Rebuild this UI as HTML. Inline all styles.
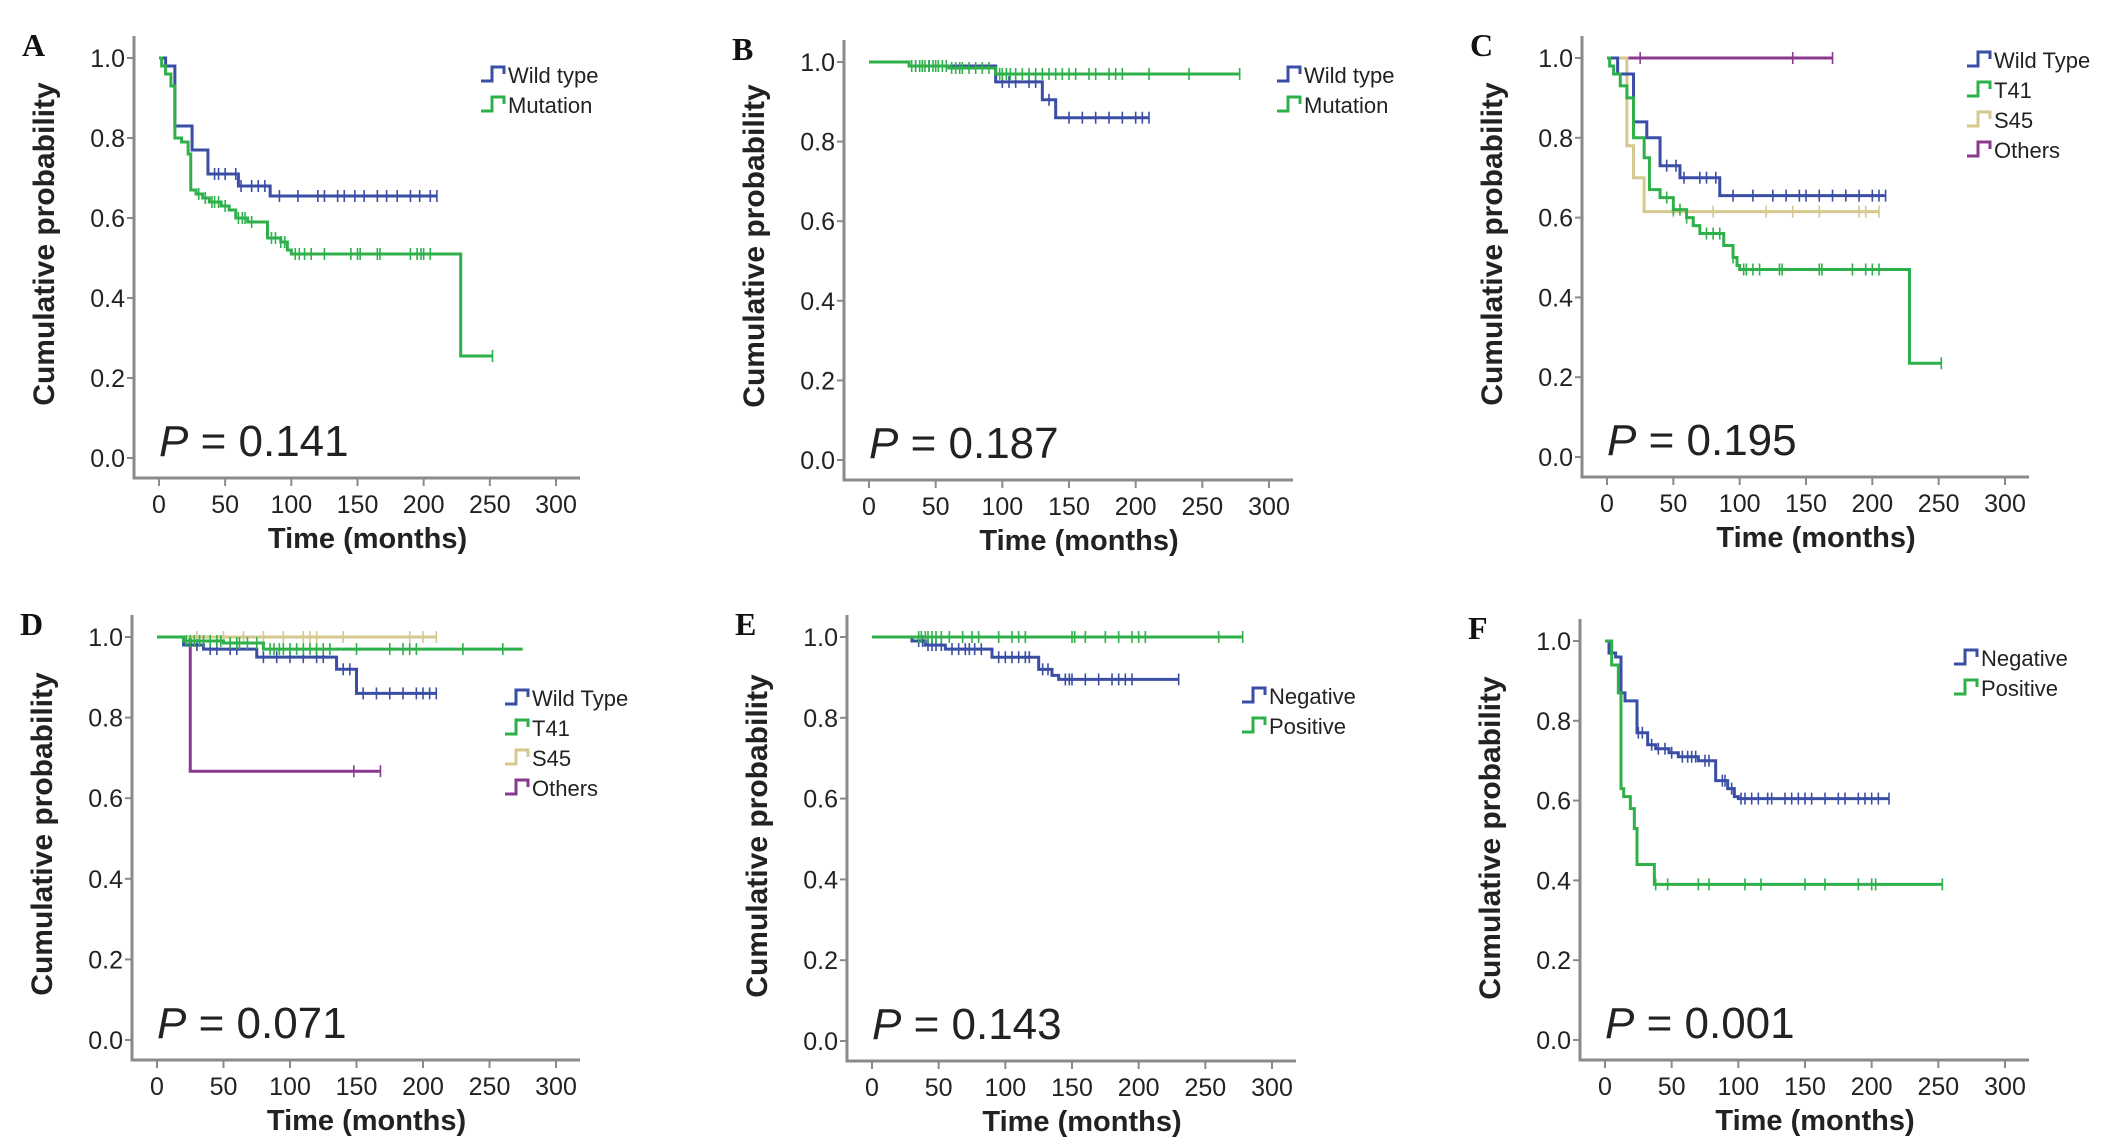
<!DOCTYPE html>
<html><head><meta charset="utf-8"><style>
html,body{margin:0;padding:0;background:#fff;}
svg{display:block;font-family:"Liberation Sans",Arial,sans-serif;}
</style></head><body>
<svg id="fig" width="2126" height="1145" viewBox="0 0 2126 1145"></svg>
<script>
// ---------- data ----------
const xTicks=[0,50,100,150,200,250,300];
const yTicks=[0.0,0.2,0.4,0.6,0.8,1.0];
const yTickLabels=["0.0","0.2","0.4","0.6","0.8","1.0"];
// Panel A
const aWildT=[5,12,25,37,60,84]; const aWildS=[0.98,0.83,0.77,0.71,0.68,0.655]; const aWildEnd=210;
const aWildC=[42,45,50,58,62,70,75,80,91,105,120,125,135,140,148,155,165,172,180,190,197,205,210];
const aMutT=[2,5,9,12,17,22,24,28,33,38,47,53,58,67,82,92,97,100,228]; const aMutS=[0.98,0.96,0.93,0.80,0.79,0.76,0.67,0.66,0.65,0.64,0.63,0.62,0.60,0.59,0.55,0.54,0.52,0.51,0.255]; const aMutEnd=252;
const aMutC=[30,35,40,42,45,50,60,63,65,70,85,88,92,95,103,106,110,115,125,145,150,152,165,167,190,195,198,200,205,252];
// Panel B
const bWildT=[30,95,130,140]; const bWildS=[0.99,0.95,0.905,0.86]; const bWildEnd=210;
const bWildC=[35,40,45,100,105,110,120,125,135,150,160,170,180,190,200,205,210];
const bMutT=[30,60,95]; const bMutS=[0.99,0.985,0.97]; const bMutEnd=278;
const bMutC=[32,35,38,40,42,45,48,50,52,55,58,62,65,68,70,75,80,85,90,98,100,103,106,110,115,120,125,130,135,140,145,150,155,165,170,180,185,190,210,240,278];
// Panel C
const cWildT=[8,20,30,40,55,85]; const cWildS=[0.96,0.84,0.80,0.73,0.70,0.655]; const cWildEnd=210;
const cWildC=[45,52,58,70,75,82,95,110,125,135,145,150,160,170,180,190,200,205,210];
const cT41T=[2,5,10,15,20,28,32,40,50,60,65,70,88,95,98,100,228]; const cT41S=[0.98,0.96,0.93,0.90,0.80,0.75,0.67,0.65,0.62,0.60,0.58,0.56,0.53,0.50,0.48,0.47,0.235]; const cT41End=252;
const cT41C=[45,50,55,60,75,80,85,95,103,105,110,115,130,132,160,162,185,195,200,205,252];
const cS45T=[15,20,28]; const cS45S=[0.78,0.70,0.615]; const cS45End=205;
const cS45C=[50,80,120,140,160,190,195,205];
const cOthT=[]; const cOthS=[]; const cOthEnd=170; const cOthC=[25,140,170];
// Panel D
const dWildT=[20,35,75,135,150]; const dWildS=[0.98,0.97,0.95,0.92,0.86]; const dWildEnd=210;
const dWildC=[30,40,45,55,60,80,90,100,110,120,125,140,145,155,165,175,185,195,200,205,210];
const dT41T=[20,50,80]; const dT41S=[0.99,0.985,0.97]; const dT41End=275;
const dT41C=[22,25,28,32,35,40,45,48,55,60,62,68,75,85,88,92,95,100,105,110,115,120,125,130,150,175,185,190,195,230,260];
const dS45T=[]; const dS45S=[]; const dS45End=210; const dS45C=[30,50,65,80,95,110,115,120,140,190,200,210];
const dOthT=[25]; const dOthS=[0.667]; const dOthEnd=168; const dOthC=[148,168];
// Panel E
const eNegT=[30,40,55,90,125,135,140]; const eNegS=[0.99,0.98,0.97,0.95,0.92,0.905,0.895]; const eNegEnd=230;
const eNegC=[35,38,42,45,48,52,60,65,70,73,77,82,95,100,105,110,115,118,128,132,145,148,150,160,170,180,185,190,195,230];
const ePosT=[]; const ePosS=[]; const ePosEnd=278;
const ePosC=[35,37,40,42,45,48,52,58,68,75,80,95,105,110,115,150,152,160,175,185,195,200,205,260,278];
// Panel F
const fNegT=[3,8,12,15,24,32,38,48,55,70,83,92,97,100]; const fNegS=[0.97,0.96,0.87,0.85,0.77,0.74,0.73,0.72,0.71,0.70,0.65,0.63,0.61,0.605]; const fNegEnd=213;
const fNegC=[25,28,35,40,45,50,58,62,65,68,75,78,88,90,95,102,105,110,115,122,125,135,140,145,150,155,165,175,180,190,195,200,205,213];
const fPosT=[5,10,12,14,19,22,24,37]; const fPosS=[0.94,0.87,0.63,0.61,0.58,0.53,0.44,0.39]; const fPosEnd=253;
const fPosC=[38,47,70,78,105,117,150,165,190,200,203,253];

const BLUE="#3a4ea6", GREEN="#2eb04a", TAN="#d6c88e", PURPLE="#8a3a8e";
const panels=[
 {id:"a",L:"A",x0:159,x300:556,y1:58,yz:458,p:"0.141",yl:244,
  series:[["wild-type",aWildT,aWildS,aWildEnd,aWildC,BLUE],["mutation",aMutT,aMutS,aMutEnd,aMutC,GREEN]],
  leg:{x:494,y:74,labels:["Wild type","Mutation"],colors:[BLUE,GREEN]}},
 {id:"b",L:"B",x0:869,x300:1269,y1:62,yz:460,p:"0.187",yl:246,
  series:[["wild-type",bWildT,bWildS,bWildEnd,bWildC,BLUE],["mutation",bMutT,bMutS,bMutEnd,bMutC,GREEN]],
  leg:{x:1290,y:74,labels:["Wild type","Mutation"],colors:[BLUE,GREEN]}},
 {id:"c",L:"C",x0:1607,x300:2005,y1:58,yz:457,p:"0.195",yl:244,
  series:[["others",cOthT,cOthS,cOthEnd,cOthC,PURPLE],["s45",cS45T,cS45S,cS45End,cS45C,TAN],["wild-type",cWildT,cWildS,cWildEnd,cWildC,BLUE],["t41",cT41T,cT41S,cT41End,cT41C,GREEN]],
  leg:{x:1980,y:59,labels:["Wild Type","T41","S45","Others"],colors:[BLUE,GREEN,TAN,PURPLE]}},
 {id:"d",L:"D",x0:157,x300:556,y1:637,yz:1040,p:"0.071",yl:834,
  series:[["others",dOthT,dOthS,dOthEnd,dOthC,PURPLE],["s45",dS45T,dS45S,dS45End,dS45C,TAN],["wild-type",dWildT,dWildS,dWildEnd,dWildC,BLUE],["t41",dT41T,dT41S,dT41End,dT41C,GREEN]],
  leg:{x:518,y:697,labels:["Wild Type","T41","S45","Others"],colors:[BLUE,GREEN,TAN,PURPLE]}},
 {id:"e",L:"E",x0:872,x300:1272,y1:637,yz:1041,p:"0.143",yl:836,
  series:[["negative",eNegT,eNegS,eNegEnd,eNegC,BLUE],["positive",ePosT,ePosS,ePosEnd,ePosC,GREEN]],
  leg:{x:1255,y:695,labels:["Negative","Positive"],colors:[BLUE,GREEN]}},
 {id:"f",L:"F",x0:1605,x300:2005,y1:641,yz:1040,p:"0.001",yl:838,
  series:[["negative",fNegT,fNegS,fNegEnd,fNegC,BLUE],["positive",fPosT,fPosS,fPosEnd,fPosC,GREEN]],
  leg:{x:1967,y:657,labels:["Negative","Positive"],colors:[BLUE,GREEN]}}
];
const NS="http://www.w3.org/2000/svg";
const svg=document.getElementById("fig");
function mk(tag,attrs,parent,txt){const e=document.createElementNS(NS,tag);for(const k in attrs)e.setAttribute(k,attrs[k]);if(txt!==undefined)e.textContent=txt;parent.appendChild(e);return e;}
panels.forEach(P=>{
  const X=t=>P.x0+(P.x300-P.x0)*t/300;
  const Y=s=>P.yz+(P.y1-P.yz)*s;
  const g=mk("g",{},svg);
  
  
  const lt=mk("text",{x:P.x0-137,y:P.y1-2,"font-family":"Liberation Serif,serif","font-weight":"bold","font-size":32,fill:"#111"},g,P.L);
  
  
  const axL=P.x0-25, axB=P.yz+20, axT=P.y1-22, axR=P.x300+24;
  const ax=mk("path",{d:`M${axL},${axT}V${axB}H${axR}`,stroke:"#8a8a8a","stroke-width":3,fill:"none"},g);
  
  
  yTicks.forEach((v,i)=>{
    mk("line",{x1:axL-7,x2:axL,y1:Y(v),y2:Y(v),stroke:"#8a8a8a","stroke-width":2},g);
    const t=mk("text",{x:axL-9,y:Y(v)+9,"text-anchor":"end","font-size":25,fill:"#222"},g,yTickLabels[i]);
    
    
  });
  xTicks.forEach(v=>{
    mk("line",{x1:X(v),x2:X(v),y1:axB,y2:axB+8,stroke:"#8a8a8a","stroke-width":2},g);
    const t=mk("text",{x:X(v),y:axB+35,"text-anchor":"middle","font-size":25,fill:"#222"},g,String(v));
    
    
  });
  const xt=mk("text",{x:(P.x0+P.x300)/2+10,y:axB+70,"text-anchor":"middle","font-size":29,"font-weight":"bold",fill:"#222"},g,"Time (months)");
  
  
  const yx=P.x0-105;
  const yt=mk("text",{x:yx,y:P.yl,"text-anchor":"middle","font-size":30,"font-weight":"bold",fill:"#222",transform:`rotate(-90 ${yx} ${P.yl})`},g,"Cumulative probability");
  
  
  const pt=mk("text",{x:P.x0,y:P.yz-2,"font-size":44,fill:"#222"},g);
  
  
  mk("tspan",{"font-style":"italic"},pt,"P");
  mk("tspan",{},pt," = "+P.p);
  P.series.forEach(([nm,T,S,end,C,col])=>{
    let d=`M${X(0)},${Y(1)}`;
    T.forEach((t,i)=>{d+=`H${X(t)}V${Y(S[i])}`;});
    d+=`H${X(end)}`;
    const pth=mk("path",{d,stroke:col,"stroke-width":3,fill:"none"},g);
    
    
    C.forEach(c=>{
      let s=1;T.forEach((t,i)=>{if(t<=c)s=S[i];});
      const m=mk("line",{x1:X(c),x2:X(c),y1:Y(s)-6,y2:Y(s)+6,stroke:col,"stroke-width":1.6},g);
      
      
    });
  });
  P.leg.labels.forEach((lab,i)=>{
    const ly=P.leg.y+i*30, lx=P.leg.x;
    const lg=mk("g",{},g);
    
    
    mk("path",{d:`M${lx-13},${ly+7}H${lx-2}V${ly-7}H${lx+10}V${ly}`,stroke:P.leg.colors[i],"stroke-width":3,fill:"none"},lg);
    mk("text",{x:lx+14,y:ly+9,"font-size":22,fill:"#222"},lg,lab);
  });
});
</script>
</body></html>
